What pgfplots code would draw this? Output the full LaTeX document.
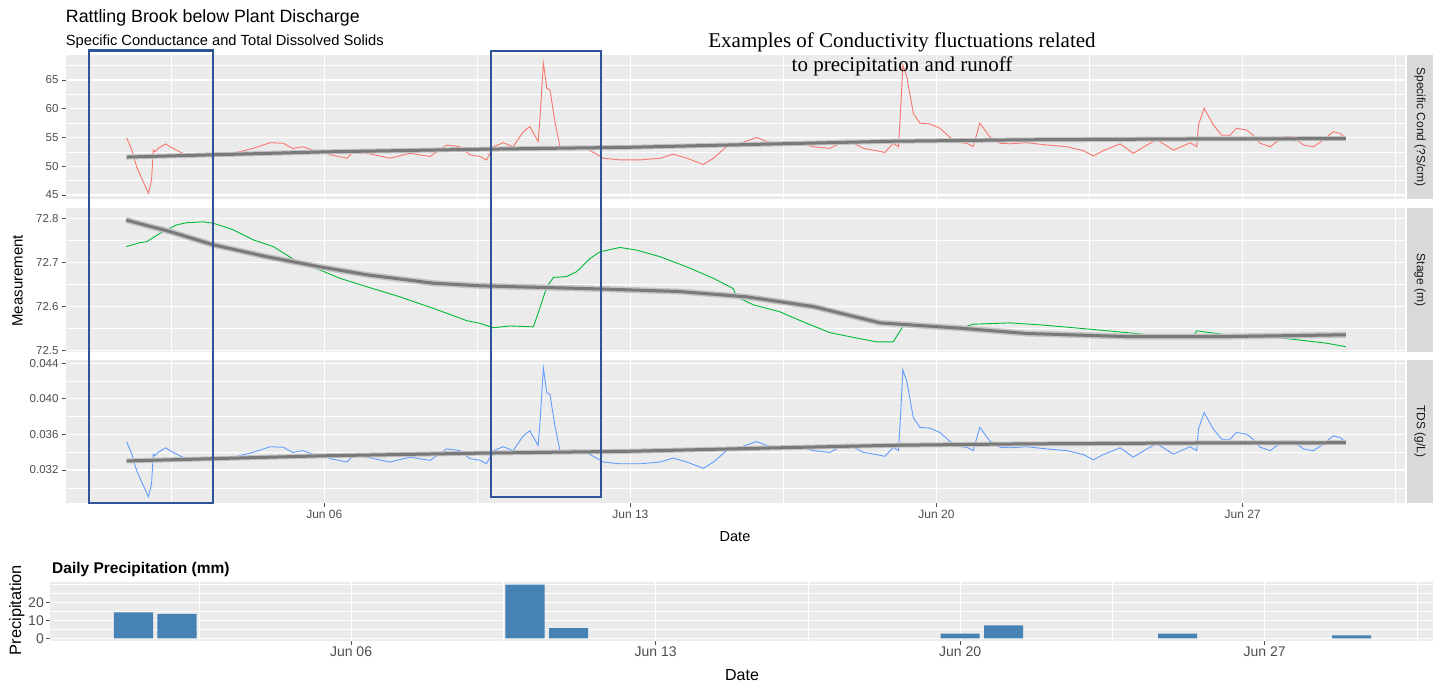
\documentclass[border=0pt]{standalone}
\usepackage{fontspec}
\setmainfont{Liberation Sans}
\newfontfamily\timesfont{Liberation Serif}
\usepackage{pgfplots}
\pgfplotsset{compat=1.18}
\definecolor{panelbg}{HTML}{EBEBEB}
\definecolor{stripbg}{HTML}{D9D9D9}
\definecolor{tickgray}{HTML}{4D4D4D}
\definecolor{stripfg}{HTML}{1A1A1A}
\definecolor{ggred}{HTML}{F8766D}
\definecolor{gggreen}{HTML}{00BA38}
\definecolor{ggblue}{HTML}{619CFF}
\definecolor{smoothgray}{HTML}{7A7A7A}
\definecolor{bandgray}{HTML}{C4C4C4}
\definecolor{boxblue}{HTML}{2F5496}
\definecolor{steelblue}{HTML}{4682B4}
\pgfplotsset{
  ggpanel/.style={
    scale only axis,
    anchor=north west,
    axis background/.style={fill=panelbg},
    axis line style={draw=none},
    grid=both,
    major grid style={white, line width=1.1pt},
    minor grid style={white, line width=0.55pt},
    tick align=outside,
    major tick length=4pt,
    minor tick length=0pt,
    tick style={draw=tickgray, line width=0.8pt},
    xtick pos=bottom, ytick pos=left,
    scaled y ticks=false, scaled x ticks=false,
    tick label style={font=\fontsize{11.5}{12}\selectfont, text=tickgray, inner sep=3pt},
  },
  topx/.style={
    xmin=0.087, xmax=30.713,
    xtick={6,13,20,27},
    minor xtick={2.5,9.5,16.5,23.5,30.5},
  },
}
\begin{document}
\begin{tikzpicture}
\useasboundingbox (0pt,0pt) rectangle (1439pt,-686pt);
% ---------- Specific conductance ----------
\begin{axis}[ggpanel, topx, at={(65.7pt,-55pt)}, width=1339.3pt, height=144.3pt,
  ymin=44.25, ymax=69.35,
  ytick={45,50,55,60,65}, yticklabels={45,50,55,60,65},
  minor ytick={47.5,52.5,57.5,62.5,67.5},
  xticklabels={}, major x tick style={draw=none}]
\addplot[ggred, line width=0.9pt] coordinates {(1.48,54.97)(1.60,52.8)(1.71,49.9)(1.86,47.3)(1.98,45.3)(2.05,47.6)(2.09,52.8)(2.13,52.5)(2.20,53.1)(2.37,53.9)(2.47,53.4)(2.70,52.5)(2.89,51.8)(3.16,52.1)(3.46,52.1)(3.91,52.25)(4.37,53.1)(4.76,54.1)(5.06,54.0)(5.28,53.1)(5.51,53.4)(5.74,52.8)(5.97,52.7)(6.13,52.0)(6.52,51.4)(6.66,52.5)(6.98,52.25)(7.50,51.4)(7.96,52.25)(8.42,51.7)(8.80,53.7)(9.10,53.4)(9.33,52.0)(9.56,51.7)(9.71,51.1)(9.87,53.4)(10.09,54.1)(10.32,53.4)(10.55,56.0)(10.70,56.9)(10.89,54.3)(10.93,58.0)(11.01,67.9)(11.09,63.55)(11.16,63.3)(11.28,57.5)(11.39,53.4)(11.69,53.5)(11.92,53.4)(12.19,52.25)(12.38,51.4)(12.76,51.1)(13.22,51.1)(13.68,51.4)(13.98,52.1)(14.29,51.4)(14.67,50.3)(14.90,51.4)(15.20,53.4)(15.51,54.0)(15.89,55.0)(16.12,54.3)(16.42,53.9)(16.88,54.0)(17.18,53.4)(17.56,53.1)(17.95,54.6)(18.33,53.1)(18.63,52.7)(18.82,52.4)(19.01,54.0)(19.13,53.4)(19.18,59.8)(19.23,67.6)(19.32,65.6)(19.47,59.2)(19.62,57.5)(19.85,57.35)(20.08,56.6)(20.31,55.0)(20.54,54.1)(20.69,54.0)(20.84,53.4)(20.99,57.5)(21.22,55.1)(21.45,54.0)(21.68,53.9)(22.06,54.1)(22.52,53.7)(22.98,53.4)(23.36,52.7)(23.59,51.8)(23.81,52.7)(24.20,53.9)(24.50,52.25)(24.81,53.7)(25.04,54.6)(25.42,52.8)(25.80,54.1)(25.95,53.4)(25.99,57.2)(26.12,60.1)(26.33,57.2)(26.52,55.4)(26.71,55.4)(26.86,56.6)(27.09,56.3)(27.24,55.4)(27.40,54.0)(27.63,53.4)(27.93,55.1)(28.16,55.1)(28.39,53.7)(28.62,53.4)(28.85,54.6)(29.07,56.0)(29.23,55.7)(29.36,54.85)};
\addplot[bandgray, line width=5pt] coordinates {(1.48,51.6)(3.5,52.0)(6,52.5)(9.5,52.95)(13,53.3)(16.4,53.9)(19,54.35)(22,54.6)(26,54.75)(29.36,54.8)};
\addplot[smoothgray, line width=3pt] coordinates {(1.48,51.6)(3.5,52.0)(6,52.5)(9.5,52.95)(13,53.3)(16.4,53.9)(19,54.35)(22,54.6)(26,54.75)(29.36,54.8)};
\end{axis}
% ---------- Stage ----------
\begin{axis}[ggpanel, topx, at={(65.7pt,-208.3pt)}, width=1339.3pt, height=143.7pt,
  ymin=72.497, ymax=72.8227,
  ytick={72.5,72.6,72.7,72.8}, yticklabels={72.5,72.6,72.7,72.8},
  minor ytick={72.55,72.65,72.75},
  xticklabels={}, major x tick style={draw=none}]
\addplot[gggreen, line width=0.9pt] coordinates {(1.47,72.736)(1.79,72.745)(1.94,72.747)(2.24,72.766)(2.62,72.785)(2.85,72.790)(3.23,72.792)(3.46,72.789)(3.92,72.774)(4.38,72.751)(4.83,72.736)(5.14,72.717)(5.44,72.698)(5.90,72.683)(6.36,72.664)(6.97,72.645)(7.73,72.622)(8.49,72.596)(9.26,72.568)(9.56,72.562)(9.86,72.552)(10.25,72.556)(10.78,72.554)(10.89,72.585)(11.09,72.645)(11.24,72.666)(11.54,72.668)(11.77,72.679)(12.08,72.709)(12.30,72.724)(12.76,72.734)(13.14,72.728)(13.68,72.713)(14.29,72.690)(14.90,72.664)(15.35,72.641)(15.43,72.622)(15.81,72.604)(16.42,72.588)(17.03,72.562)(17.56,72.541)(18.10,72.530)(18.63,72.520)(19.01,72.520)(19.13,72.539)(19.24,72.556)(19.70,72.558)(20.54,72.551)(20.84,72.560)(21.68,72.563)(22.44,72.558)(23.59,72.548)(24.35,72.541)(24.88,72.536)(25.49,72.532)(25.87,72.532)(25.95,72.545)(26.48,72.538)(27.02,72.533)(27.78,72.530)(28.31,72.524)(28.92,72.517)(29.36,72.509)};
\addplot[bandgray, line width=6pt] coordinates {(1.47,72.796)(2.47,72.770)(3.46,72.740)(4.68,72.713)(5.90,72.690)(6.97,72.672)(8.49,72.653)(9.56,72.647)(12.30,72.640)(14.13,72.634)(15.66,72.622)(17.18,72.600)(18.71,72.563)(20.54,72.551)(22.06,72.539)(24.35,72.532)(26.64,72.532)(29.36,72.536)};
\addplot[smoothgray, line width=3pt] coordinates {(1.47,72.796)(2.47,72.770)(3.46,72.740)(4.68,72.713)(5.90,72.690)(6.97,72.672)(8.49,72.653)(9.56,72.647)(12.30,72.640)(14.13,72.634)(15.66,72.622)(17.18,72.600)(18.71,72.563)(20.54,72.551)(22.06,72.539)(24.35,72.532)(26.64,72.532)(29.36,72.536)};
\end{axis}
% ---------- TDS ----------
\begin{axis}[ggpanel, topx, at={(65.7pt,-360pt)}, width=1339.3pt, height=143pt,
  ymin=0.02829, ymax=0.04437,
  ytick={0.032,0.036,0.040,0.044}, yticklabels={0.032,0.036,0.040,0.044},
  minor ytick={0.030,0.034,0.038,0.042},
  xticklabels={Jun 06,Jun 13,Jun 20,Jun 27},
  xticklabel style={font=\fontsize{12}{12}\selectfont, text=tickgray, inner sep=2.5pt}]
\addplot[ggblue, line width=0.9pt] coordinates {(1.48,0.03518)(1.60,0.03379)(1.71,0.03194)(1.86,0.03027)(1.98,0.02899)(2.05,0.03046)(2.09,0.03379)(2.13,0.03360)(2.20,0.03398)(2.37,0.03450)(2.47,0.03418)(2.70,0.03360)(2.89,0.03315)(3.16,0.03334)(3.46,0.03334)(3.91,0.03344)(4.37,0.03398)(4.76,0.03462)(5.06,0.03456)(5.28,0.03398)(5.51,0.03418)(5.74,0.03379)(5.97,0.03373)(6.13,0.03328)(6.52,0.03290)(6.66,0.03360)(6.98,0.03344)(7.50,0.03290)(7.96,0.03344)(8.42,0.03309)(8.80,0.03437)(9.10,0.03418)(9.33,0.03328)(9.56,0.03309)(9.71,0.03270)(9.87,0.03418)(10.09,0.03462)(10.32,0.03418)(10.55,0.03584)(10.70,0.03642)(10.89,0.03475)(10.93,0.03712)(11.01,0.04346)(11.09,0.04067)(11.16,0.04051)(11.28,0.03680)(11.39,0.03418)(11.69,0.03424)(11.92,0.03418)(12.19,0.03344)(12.38,0.03290)(12.76,0.03270)(13.22,0.03270)(13.68,0.03290)(13.98,0.03334)(14.29,0.03290)(14.67,0.03219)(14.90,0.03290)(15.20,0.03418)(15.51,0.03456)(15.89,0.03520)(16.12,0.03475)(16.42,0.03450)(16.88,0.03456)(17.18,0.03418)(17.56,0.03398)(17.95,0.03494)(18.33,0.03398)(18.63,0.03373)(18.82,0.03354)(19.01,0.03456)(19.13,0.03418)(19.18,0.03827)(19.23,0.04326)(19.32,0.04198)(19.47,0.03789)(19.62,0.03680)(19.85,0.03670)(20.08,0.03622)(20.31,0.03520)(20.54,0.03462)(20.69,0.03456)(20.84,0.03418)(20.99,0.03680)(21.22,0.03526)(21.45,0.03456)(21.68,0.03450)(22.06,0.03462)(22.52,0.03437)(22.98,0.03418)(23.36,0.03373)(23.59,0.03315)(23.81,0.03373)(24.20,0.03450)(24.50,0.03344)(24.81,0.03437)(25.04,0.03494)(25.42,0.03379)(25.80,0.03462)(25.95,0.03418)(25.99,0.03661)(26.12,0.03846)(26.33,0.03661)(26.52,0.03546)(26.71,0.03546)(26.86,0.03622)(27.09,0.03603)(27.24,0.03546)(27.40,0.03456)(27.63,0.03418)(27.93,0.03526)(28.16,0.03526)(28.39,0.03437)(28.62,0.03418)(28.85,0.03494)(29.07,0.03584)(29.23,0.03565)(29.36,0.03510)};
\addplot[bandgray, line width=5pt] coordinates {(1.48,0.03302)(3.5,0.03328)(6,0.03360)(9.5,0.03389)(13,0.03411)(16.4,0.03450)(19,0.03478)(22,0.03494)(26,0.03504)(29.36,0.03507)};
\addplot[smoothgray, line width=3pt] coordinates {(1.48,0.03302)(3.5,0.03328)(6,0.03360)(9.5,0.03389)(13,0.03411)(16.4,0.03450)(19,0.03478)(22,0.03494)(26,0.03504)(29.36,0.03507)};
\end{axis}
% strips
\fill[stripbg] (1407pt,-55pt) rectangle (1433pt,-199.3pt);
\fill[stripbg] (1407pt,-208.3pt) rectangle (1433pt,-352pt);
\fill[stripbg] (1407pt,-360pt) rectangle (1433pt,-503pt);
\node[rotate=-90, text=stripfg, font=\fontsize{12}{12}\selectfont] at (1420pt,-127.2pt) {Specific Cond (?S/cm)};
\node[rotate=-90, text=stripfg, font=\fontsize{12}{12}\selectfont] at (1420pt,-280.2pt) {Stage (m)};
\node[rotate=-90, text=stripfg, font=\fontsize{12}{12}\selectfont] at (1420pt,-431.5pt) {TDS (g/L)};
% titles and labels
\node[anchor=base west, font=\fontsize{17.8}{18}\selectfont, inner sep=0pt] at (65.7pt,-22.7pt) {Rattling Brook below Plant Discharge};
\node[anchor=base west, font=\fontsize{14.7}{15}\selectfont, inner sep=0pt] at (65.7pt,-45.7pt) {Specific Conductance and Total Dissolved Solids};
\node[rotate=90, font=\fontsize{15}{15}\selectfont] at (17.5pt,-280.8pt) {Measurement};
\node[font=\fontsize{14.5}{15}\selectfont] at (735pt,-537pt) {Date};
\node[anchor=base, font=\timesfont\fontsize{21}{24}\selectfont, inner sep=0pt] at (902pt,-47pt) {Examples of Conductivity fluctuations related};
\node[anchor=base, font=\timesfont\fontsize{21}{24}\selectfont, inner sep=0pt] at (902pt,-71pt) {to precipitation and runoff};
% ---------- Precipitation ----------
\begin{axis}[ggpanel, at={(50pt,-582pt)}, width=1383pt, height=59pt,
  xmin=-0.92, xmax=30.87, ymin=-1.5, ymax=31.3,
  xtick={6,13,20,27}, xticklabels={Jun 06,Jun 13,Jun 20,Jun 27},
  minor xtick={2.5,9.5,16.5,23.5,30.5},
  ytick={0,10,20}, yticklabels={0,10,20}, minor ytick={5,15,25,30},
  tick label style={font=\fontsize{14}{14}\selectfont, text=tickgray, inner sep=2pt}]
\addplot[ybar, bar width=0.9, fill=steelblue, draw=none] coordinates {(1,14.4)(2,13.6)(10,29.8)(11,5.7)(20,2.6)(21,7.2)(25,2.6)(29,1.7)};
\end{axis}
\node[anchor=base west, font=\bfseries\fontsize{15.5}{16}\selectfont, inner sep=0pt] at (52pt,-573pt) {Daily Precipitation (mm)};
\node[rotate=90, font=\fontsize{16.4}{17}\selectfont] at (17pt,-610pt) {Precipitation};
\node[font=\fontsize{16}{16}\selectfont] at (742pt,-675pt) {Date};
% boxes
\draw[boxblue, line width=2.6pt] (89pt,-50.7pt) rectangle (212.8pt,-503pt);
\draw[boxblue, line width=2.6pt] (491pt,-51pt) rectangle (601pt,-497pt);
\end{tikzpicture}
\end{document}
